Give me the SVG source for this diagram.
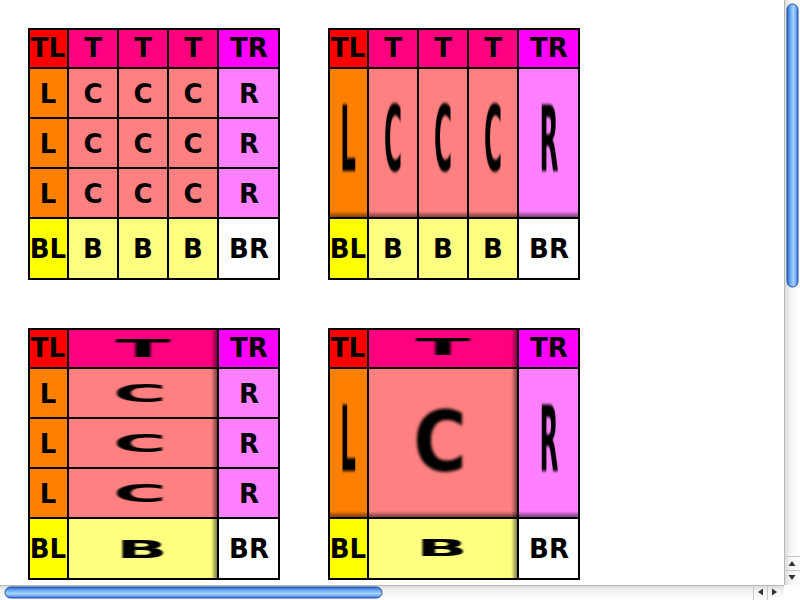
<svg xmlns="http://www.w3.org/2000/svg" width="800" height="600" viewBox="0 0 800 600">
<style>
.t{font-family:"DejaVu Sans","Liberation Sans",sans-serif;font-weight:bold;font-size:26px;text-anchor:middle;fill:#000}
.g{fill:none;stroke:#000;stroke-width:2}
.s{filter:url(#bl)}
.tl{fill:#ff0000}.tp{fill:#ff0080}.tr{fill:#ff00ff}
.l{fill:#ff8000}.c{fill:#ff8080}.r{fill:#ff80ff}
.bl{fill:#ffff00}.b{fill:#ffff80}.br{fill:#ffffff}
</style>
<defs>
<filter id="bl" x="-20%" y="-20%" width="140%" height="140%"><feGaussianBlur stdDeviation="0.5"/></filter>
<linearGradient id="shV" x1="0" y1="0" x2="0" y2="1"><stop offset="0" stop-color="#000" stop-opacity="0"/><stop offset="1" stop-color="#000" stop-opacity="0.6"/></linearGradient>
<linearGradient id="shH" x1="0" y1="0" x2="1" y2="0"><stop offset="0" stop-color="#000" stop-opacity="0"/><stop offset="1" stop-color="#000" stop-opacity="0.6"/></linearGradient>
<linearGradient id="vtrack" x1="0" y1="0" x2="1" y2="0"><stop offset="0" stop-color="#d8d8d8"/><stop offset="0.4" stop-color="#f4f4f4"/><stop offset="1" stop-color="#ffffff"/></linearGradient>
<linearGradient id="htrack" x1="0" y1="0" x2="0" y2="1"><stop offset="0" stop-color="#d8d8d8"/><stop offset="0.4" stop-color="#f4f4f4"/><stop offset="1" stop-color="#ffffff"/></linearGradient>
<linearGradient id="vthumb" x1="0" y1="0" x2="1" y2="0"><stop offset="0" stop-color="#2a62c8"/><stop offset="0.3" stop-color="#6aa8f0"/><stop offset="0.6" stop-color="#a8d4fc"/><stop offset="1" stop-color="#3a7ee0"/></linearGradient>
<linearGradient id="hthumb" x1="0" y1="0" x2="0" y2="1"><stop offset="0" stop-color="#2a62c8"/><stop offset="0.3" stop-color="#6aa8f0"/><stop offset="0.6" stop-color="#a8d4fc"/><stop offset="1" stop-color="#3a7ee0"/></linearGradient>
</defs>
<rect width="800" height="600" fill="#fff"/>

<!-- Panel 1: repeat / repeat -->
<g id="panel1">
<rect class="tl" x="28" y="28" width="40" height="40"/>
<rect class="tp" x="68" y="28" width="150" height="40"/>
<rect class="tr" x="218" y="28" width="62" height="40"/>
<rect class="l" x="28" y="68" width="40" height="150"/>
<rect class="c" x="68" y="68" width="150" height="150"/>
<rect class="r" x="218" y="68" width="62" height="150"/>
<rect class="bl" x="28" y="218" width="40" height="62"/>
<rect class="b" x="68" y="218" width="150" height="62"/>
<rect class="br" x="218" y="218" width="62" height="62"/>
<path class="g" d="M29 29H279V279H29Z M68 28V280 M118 28V280 M168 28V280 M218 28V280 M28 68H280 M28 118H280 M28 168H280 M28 218H280"/>
<text class="t" x="48" y="57">TL</text><text class="t" x="93" y="57">T</text><text class="t" x="143" y="57">T</text><text class="t" x="193" y="57">T</text><text class="t" x="249" y="57">TR</text>
<text class="t" x="48" y="103">L</text><text class="t" x="93" y="103">C</text><text class="t" x="143" y="103">C</text><text class="t" x="193" y="103">C</text><text class="t" x="249" y="103">R</text>
<text class="t" x="48" y="153">L</text><text class="t" x="93" y="153">C</text><text class="t" x="143" y="153">C</text><text class="t" x="193" y="153">C</text><text class="t" x="249" y="153">R</text>
<text class="t" x="48" y="203">L</text><text class="t" x="93" y="203">C</text><text class="t" x="143" y="203">C</text><text class="t" x="193" y="203">C</text><text class="t" x="249" y="203">R</text>
<text class="t" x="48" y="258">BL</text><text class="t" x="93" y="258">B</text><text class="t" x="143" y="258">B</text><text class="t" x="193" y="258">B</text><text class="t" x="249" y="258">BR</text>
</g>

<!-- Panel 2: repeat horizontally, stretch vertically -->
<g id="panel2">
<rect class="tl" x="328" y="28" width="40" height="40"/>
<rect class="tp" x="368" y="28" width="150" height="40"/>
<rect class="tr" x="518" y="28" width="62" height="40"/>
<rect class="l" x="328" y="68" width="40" height="150"/>
<rect class="c" x="368" y="68" width="150" height="150"/>
<rect class="r" x="518" y="68" width="62" height="150"/>
<rect class="bl" x="328" y="218" width="40" height="62"/>
<rect class="b" x="368" y="218" width="150" height="62"/>
<rect class="br" x="518" y="218" width="62" height="62"/>
<rect x="329" y="211" width="250" height="7" fill="url(#shV)"/>
<path class="g" d="M329 29H579V279H329Z M368 28V280 M418 28V280 M468 28V280 M518 28V280 M328 68H580 M328 218H580"/>
<text class="t" x="348" y="57">TL</text><text class="t" x="393" y="57">T</text><text class="t" x="443" y="57">T</text><text class="t" x="493" y="57">T</text><text class="t" x="549" y="57">TR</text>
<text class="t s" transform="translate(348,139) scale(0.95,3.5)" y="9">L</text>
<text class="t s" transform="translate(393,139) scale(0.95,3.5)" y="9">C</text>
<text class="t s" transform="translate(443,139) scale(0.95,3.5)" y="9">C</text>
<text class="t s" transform="translate(493,139) scale(0.95,3.5)" y="9">C</text>
<text class="t s" transform="translate(549,139) scale(0.95,3.5)" y="9">R</text>
<text class="t" x="348" y="258">BL</text><text class="t" x="393" y="258">B</text><text class="t" x="443" y="258">B</text><text class="t" x="493" y="258">B</text><text class="t" x="549" y="258">BR</text>
</g>

<!-- Panel 3: stretch horizontally, repeat vertically -->
<g id="panel3">
<rect class="tl" x="28" y="328" width="40" height="40"/>
<rect class="tp" x="68" y="328" width="150" height="40"/>
<rect class="tr" x="218" y="328" width="62" height="40"/>
<rect class="l" x="28" y="368" width="40" height="150"/>
<rect class="c" x="68" y="368" width="150" height="150"/>
<rect class="r" x="218" y="368" width="62" height="150"/>
<rect class="bl" x="28" y="518" width="40" height="62"/>
<rect class="b" x="68" y="518" width="150" height="62"/>
<rect class="br" x="218" y="518" width="62" height="62"/>
<rect x="211" y="329" width="7" height="250" fill="url(#shH)"/>
<path class="g" d="M29 329H279V579H29Z M68 328V580 M218 328V580 M28 368H280 M28 418H280 M28 468H280 M28 518H280"/>
<text class="t" x="48" y="357">TL</text>
<text class="t s" transform="translate(143,348) scale(3.1,0.95)" y="9">T</text>
<text class="t" x="249" y="357">TR</text>
<text class="t" x="48" y="403">L</text><text class="t s" transform="translate(140,393) scale(2.8,0.95)" y="9">C</text><text class="t" x="249" y="403">R</text>
<text class="t" x="48" y="453">L</text><text class="t s" transform="translate(140,443) scale(2.8,0.95)" y="9">C</text><text class="t" x="249" y="453">R</text>
<text class="t" x="48" y="503">L</text><text class="t s" transform="translate(140,493) scale(2.8,0.95)" y="9">C</text><text class="t" x="249" y="503">R</text>
<text class="t" x="48" y="558">BL</text>
<text class="t s" transform="translate(142,548) scale(2.6,0.95)" y="10">B</text>
<text class="t" x="249" y="558">BR</text>
</g>

<!-- Panel 4: stretch / stretch -->
<g id="panel4">
<rect class="tl" x="328" y="328" width="40" height="40"/>
<rect class="tp" x="368" y="328" width="150" height="40"/>
<rect class="tr" x="518" y="328" width="62" height="40"/>
<rect class="l" x="328" y="368" width="40" height="150"/>
<rect class="c" x="368" y="368" width="150" height="150"/>
<rect class="r" x="518" y="368" width="62" height="150"/>
<rect class="bl" x="328" y="518" width="40" height="62"/>
<rect class="b" x="368" y="518" width="150" height="62"/>
<rect class="br" x="518" y="518" width="62" height="62"/>
<rect x="329" y="511" width="250" height="7" fill="url(#shV)"/>
<rect x="511" y="329" width="7" height="250" fill="url(#shH)"/>
<path class="g" d="M329 329H579V579H329Z M368 328V580 M518 328V580 M328 368H580 M328 518H580"/>
<text class="t" x="348" y="357">TL</text>
<text class="t s" transform="translate(443,348) scale(3.1,0.85)" y="8">T</text>
<text class="t" x="549" y="357">TR</text>
<text class="t s" transform="translate(348,439) scale(0.95,3.5)" y="9">L</text>
<text class="t s" transform="translate(440,442) scale(2.8,3.2)" y="9">C</text>
<text class="t s" transform="translate(549,439) scale(0.95,3.5)" y="9">R</text>
<text class="t" x="348" y="558">BL</text>
<text class="t s" transform="translate(442,547) scale(2.6,0.85)" y="10">B</text>
<text class="t" x="549" y="558">BR</text>
</g>

<!-- Scrollbars -->
<g id="vscroll">
<rect x="784" y="0" width="16" height="585" fill="url(#vtrack)"/>
<line x1="784.5" y1="0" x2="784.5" y2="585" stroke="#b8b8b8"/>
<rect x="787" y="4" width="11" height="283" rx="5.5" fill="url(#vthumb)" stroke="#1f4fa8" stroke-width="1"/>
<line x1="784" y1="556.5" x2="800" y2="556.5" stroke="#c8c8c8"/>
<line x1="784" y1="570.5" x2="800" y2="570.5" stroke="#c8c8c8"/>
<path d="M788.5 566L792 561L795.5 566Z" fill="#333"/>
<path d="M788.5 575L792 580L795.5 575Z" fill="#333"/>
</g>
<g id="hscroll">
<rect x="0" y="585" width="784" height="15" fill="url(#htrack)"/>
<line x1="0" y1="585.5" x2="784" y2="585.5" stroke="#b8b8b8"/>
<rect x="5" y="587" width="377" height="11" rx="5.5" fill="url(#hthumb)" stroke="#1f4fa8" stroke-width="1"/>
<line x1="753.5" y1="586" x2="753.5" y2="600" stroke="#c8c8c8"/>
<line x1="767.5" y1="586" x2="767.5" y2="600" stroke="#c8c8c8"/>
<path d="M763 588.5L758 592L763 595.5Z" fill="#333"/>
<path d="M772 588.5L777 592L772 595.5Z" fill="#333"/>
<rect x="784" y="585" width="16" height="15" fill="#fff"/>
</g>
</svg>
